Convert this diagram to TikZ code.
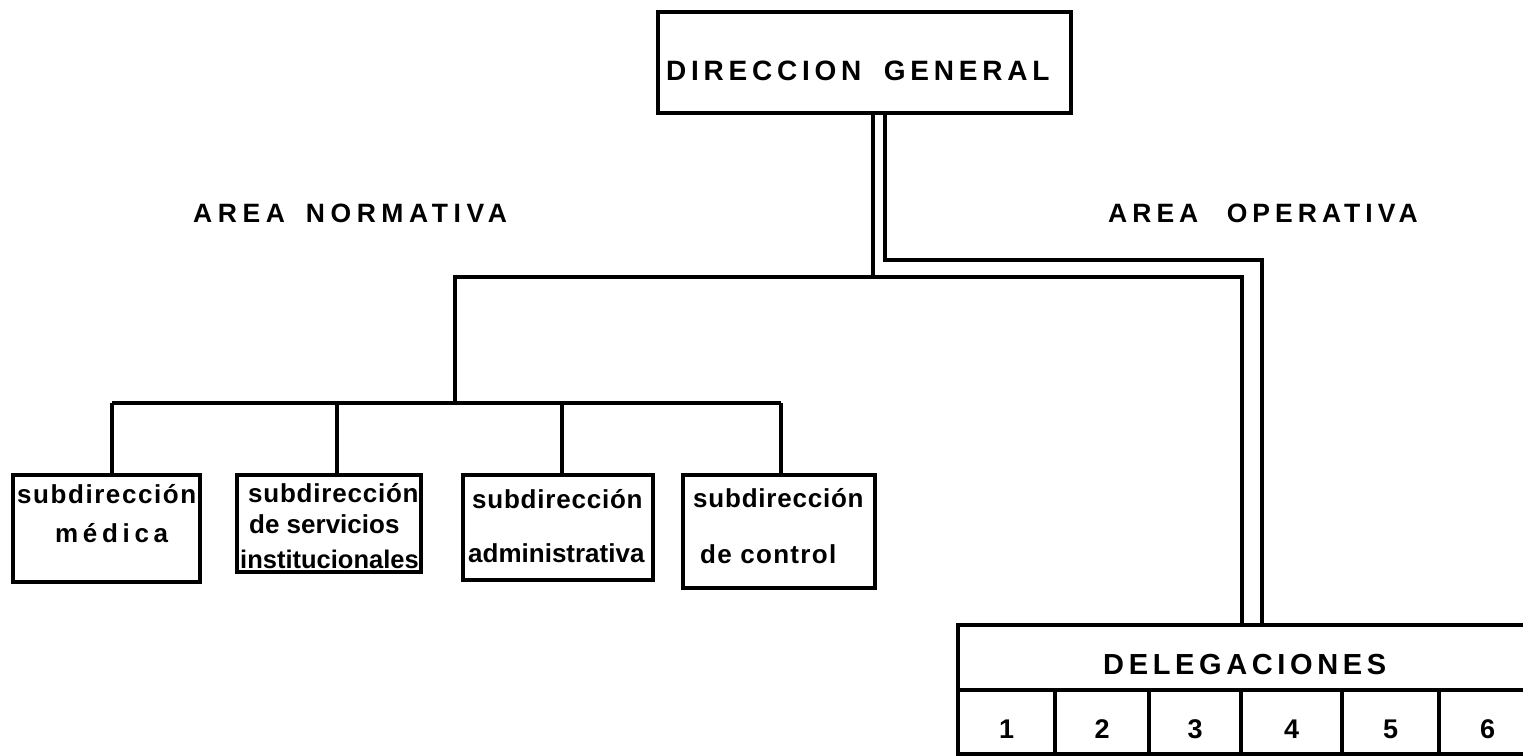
\documentclass[tikz,border=0pt]{standalone}
\usepackage{fontspec}
\setmainfont{Liberation Sans}
\newcommand\trk[2]{{\addfontfeatures{LetterSpace=#1}#2}}
\begin{document}
\begin{tikzpicture}[x=1pt,y=-1pt,
  box/.style={draw, line width=3.4pt, inner sep=0pt},
  conn/.style={line width=3.2pt},
  lbl/.style={inner sep=0pt, anchor=base west, font=\bfseries\fontsize{26}{28}\selectfont},
  ctr/.style={inner sep=0pt, anchor=base, font=\bfseries\fontsize{27}{28}\selectfont}]
\useasboundingbox (0,0) rectangle (1523,755);
% boxes
\node[box, minimum width=413pt, minimum height=101pt] (top) at (864.5,62.5) {};
\node[box, minimum width=187pt, minimum height=107pt] (b1) at (106.5,528.5) {};
\node[box, minimum width=184pt, minimum height=97pt] (b2) at (329,523.5) {};
\node[box, minimum width=190pt, minimum height=105pt] (b3) at (558,527.5) {};
\node[box, minimum width=192pt, minimum height=113pt] (b4) at (779,531.5) {};
\node[box, minimum width=578pt, minimum height=65pt] (dh) at (1247,657.5) {};
\node[box, minimum width=97pt, minimum height=64pt] (c1) at (1006.5,722) {};
\node[box, minimum width=94pt, minimum height=64pt] (c2) at (1102,722) {};
\node[box, minimum width=92pt, minimum height=64pt] (c3) at (1195,722) {};
\node[box, minimum width=101pt, minimum height=64pt] (c4) at (1291.5,722) {};
\node[box, minimum width=97pt, minimum height=64pt] (c5) at (1390.5,722) {};
\node[box, minimum width=97pt, minimum height=64pt] (c6) at (1487.5,722) {};
% texts
\node[lbl] (tdg) at (666,80) {\fontsize{28}{30}\selectfont\trk{17}{DIRECCION\hspace{10pt} GENERAL}};
\node[lbl] (tan) at (193,222) {\fontsize{26.5}{28}\selectfont\trk{21}{AREA\hspace{8pt} NORMATIVA}};
\node[lbl] (tao) at (1108,222) {\fontsize{26.5}{28}\selectfont\trk{19}{AREA\hspace{16pt} OPERATIVA}};
\node[lbl] (tdl) at (1103,674) {\fontsize{29}{30}\selectfont\trk{16}{DELEGACIONES}};
\node[lbl] (t1a) at (17,503) {\trk{6}{subdirección}};
\node[lbl] (t1b) at (55,542) {\trk{18}{médica}};
\node[lbl] (t2a) at (248,502) {\trk{3}{subdirección}};
\node[lbl] (t2b) at (249,533) {de servicios};
\node[lbl] (t2c) at (240,568) {\fontsize{25.5}{28}\selectfont institucionales};
\node[lbl] (t3a) at (472,508) {\trk{3}{subdirección}};
\node[lbl] (t3b) at (468,562) {administrativa};
\node[lbl] (t4a) at (693,507) {\trk{3}{subdirección}};
\node[lbl] (t4b) at (700,563) {\trk{5}{de control}};
\node[ctr] (n1) at (1006.5,738) {1};
\node[ctr] (n2) at (1102,738) {2};
\node[ctr] (n3) at (1195,738) {3};
\node[ctr] (n4) at (1291.5,738) {4};
\node[ctr] (n5) at (1390.5,738) {5};
\node[ctr] (n6) at (1487.5,738) {6};
% connectors
\coordinate (hL) at (455,277);
\coordinate (hR) at (1242,277);
\coordinate (oR) at (1262,260);
\coordinate (nb) at (455,403);
\coordinate (bl) at (112,403);
\coordinate (br) at (781,403);
\coordinate (d2) at (337,403);
\coordinate (d3) at (562,403);
\draw[conn] ([xshift=8.5pt]top.south) -- ([xshift=8.5pt]top.south |- hL);
\draw[conn] (nb) -- (hL) -- (hR) -- (hR |- dh.north);
\draw[conn] ([xshift=20.5pt]top.south) |- (oR) -- (oR |- dh.north);
\draw[conn] (bl) -- (br);
\draw[conn] (bl) -- (bl |- b1.north);
\draw[conn] (d2) -- (d2 |- b2.north);
\draw[conn] (d3) -- (d3 |- b3.north);
\draw[conn] (br) -- (br |- b4.north);
\end{tikzpicture}
\end{document}
